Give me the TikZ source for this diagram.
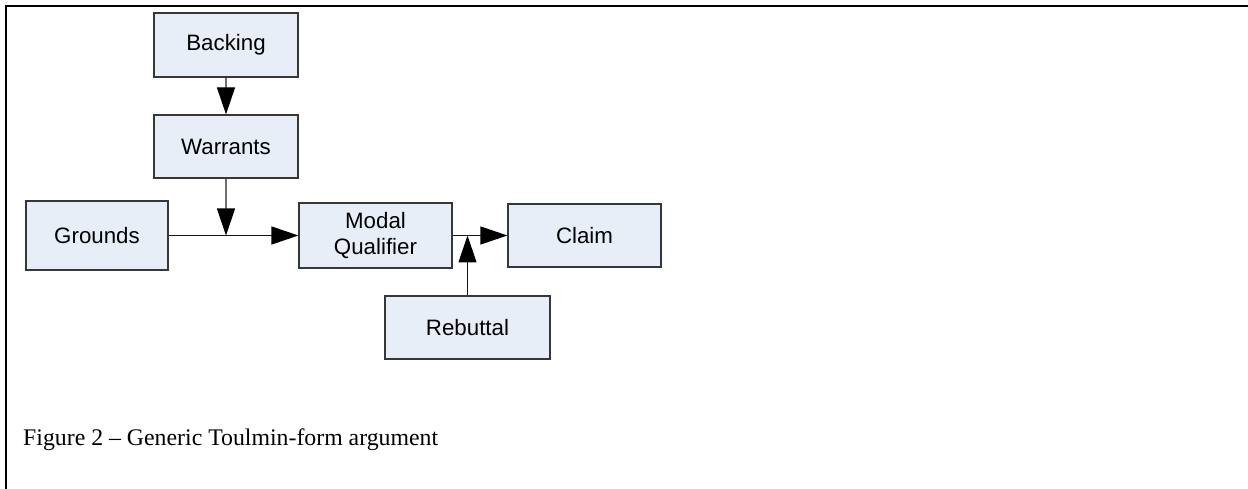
\documentclass[tikz,border=0pt]{standalone}
\usepackage{fontspec}
\setmainfont{Liberation Serif}
\newfontfamily\arialf{Liberation Sans}
\usetikzlibrary{arrows.meta}
\definecolor{boxfill}{RGB}{232,238,248}
\definecolor{boxline}{RGB}{55,55,55}
\definecolor{connline}{RGB}{20,20,20}
\definecolor{connlight}{RGB}{110,110,110}
\begin{document}
\begin{tikzpicture}[x=1pt,y=-1pt,
  box/.style={draw=boxline, fill=boxfill, line width=1.2pt, inner sep=0pt,
    align=center, font=\arialf\fontsize{22.3}{26.5}\selectfont},
  conn/.style={draw=connline, line width=1.2pt, -{Triangle[length=27pt,width=18pt,color=black]}},
  connl/.style={conn, draw=connlight}]
\useasboundingbox (0,0) rectangle (1248,489);
% frame
\draw[line width=2.6pt] (6,489) -- (6,6) -- (1248,6);
% boxes
\node[box, minimum width=144pt, minimum height=64pt] (backing) at (226,45) {Backing};
\node[box, minimum width=144pt, minimum height=63pt] (warrants) at (226,146.5) {Warrants};
\node[box, minimum width=142pt, minimum height=69pt] (grounds) at (97,235.5) {Grounds};
\node[box, minimum width=153pt, minimum height=65pt] (modal) at (375.5,235.5) {Modal\\Qualifier};
\node[box, minimum width=153pt, minimum height=63pt] (claim) at (584.5,235.5) {Claim};
\node[box, minimum width=165pt, minimum height=63pt] (rebuttal) at (467.5,327.5) {Rebuttal};
% junctions
\coordinate (j1) at (226,235.5);
\coordinate (j2) at (467.5,235.5);
% connectors
\draw[connl] (backing) -- (warrants);
\draw[connl] (warrants.south) -- (j1);
\draw[conn] (grounds.east) -- (modal.west);
\draw[conn] (modal.east) -- (claim.west);
\draw[conn] (rebuttal.north) -- (j2);
% caption
\node[anchor=base west, inner sep=0pt, font=\fontsize{23.8}{28}\selectfont] (caption) at (23,445) {Figure 2 -- Generic Toulmin-form argument};
\end{tikzpicture}
\end{document}
